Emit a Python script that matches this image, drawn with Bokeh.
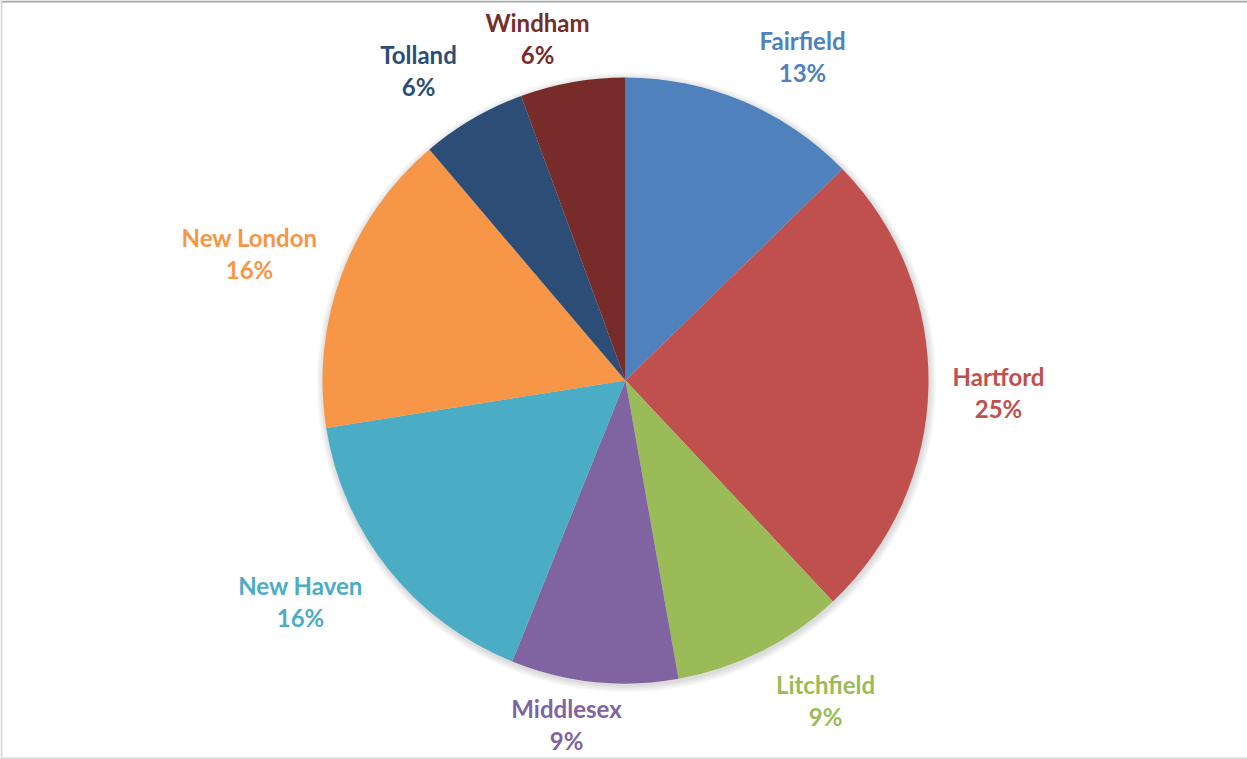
import math
from bokeh.plotting import figure
from bokeh.models import Range1d, ColumnDataSource
from bokeh.core.properties import value
from bokeh.embed import file_html
from bokeh.resources import INLINE

# ---- data ----
counties = ["Fairfield", "Hartford", "Litchfield", "Middlesex",
            "New Haven", "New London", "Tolland", "Windham"]
shares = [12.7, 25.3, 9.2, 8.9, 16.4, 16.3, 5.6, 5.6]
colors = ["#4F81BD", "#C0504D", "#9BBB59", "#8064A2",
          "#4BACC6", "#F79646", "#2C4D75", "#772C2A"]

# ---- layout ----
W, H = 1247, 759
CX, CY, R = 625, 759 - 380, 303
# label centres (screen px, y downward) chosen to mirror the reference placement
label_pos = [(802, 56), (998, 392), (825, 700), (566, 724),
             (300, 601), (249, 253), (418, 70), (537, 38)]

total = sum(shares)
starts, ends = [], []
cum = 0.0
for v in shares:
    a0 = cum / total * 2 * math.pi
    cum += v
    a1 = cum / total * 2 * math.pi
    # clockwise from 12 o'clock
    starts.append(math.pi / 2 - a1)
    ends.append(math.pi / 2 - a0)

pcts = [f"{round(v / total * 100)}%" for v in shares]

p = figure(width=W, height=H, x_range=Range1d(0, W), y_range=Range1d(0, H),
           output_backend="svg", toolbar_location=None, min_border=0)
p.axis.visible = False
p.grid.visible = False
p.outline_line_color = None
p.background_fill_color = "white"
p.border_fill_color = "white"

# soft shadow
for k in range(1, 8):
    p.circle(x=[CX + 1], y=[CY - 2], radius=R + k, fill_color="black",
             fill_alpha=0.018, line_color=None)

src = ColumnDataSource(dict(start=starts, end=ends, color=colors, name=counties))
p.wedge(x=CX, y=CY, radius=R, start_angle="start", end_angle="end",
        fill_color="color", line_color=None, source=src)

lx = [pos[0] for pos in label_pos]
ly1 = [H - pos[1] + 16 for pos in label_pos]
ly2 = [H - pos[1] - 16 for pos in label_pos]
lsrc = ColumnDataSource(dict(x=lx, y1=ly1, y2=ly2, name=counties, pct=pcts, color=colors))
for ycol, tcol in (("y1", "name"), ("y2", "pct")):
    p.text(x="x", y=ycol, text=tcol, source=lsrc, text_color="color",
           text_font=value("Lato"), text_font_style="bold", text_font_size="24px",
           text_align="center", text_baseline="middle")

# chart frame
p.segment(x0=[0], y0=[H - 1], x1=[W], y1=[H - 1], line_color="#a6a6a6", line_width=2)
p.segment(x0=[1], y0=[0], x1=[1], y1=[H], line_color="#d9d9d9", line_width=2)
p.segment(x0=[0], y0=[1], x1=[W], y1=[1], line_color="#d9d9d9", line_width=2)

open("out.html", "w").write(file_html(p, INLINE))
